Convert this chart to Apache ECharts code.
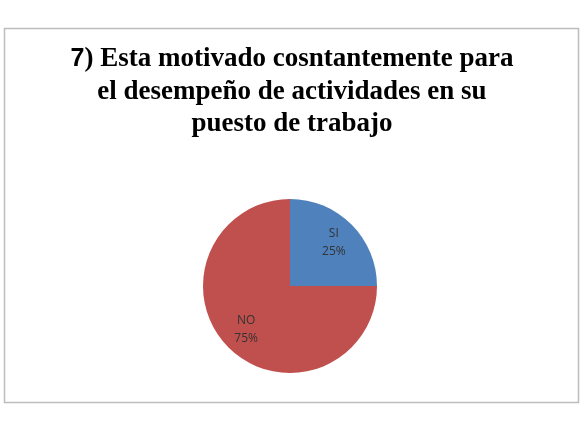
<!DOCTYPE html>
<html><head><meta charset="utf-8">
<script src="https://cdn.jsdelivr.net/npm/echarts@6/dist/echarts.min.js"></script>
<style>html,body{margin:0;padding:0;background:#fff}#c{width:585px;height:422px}</style>
</head><body><div id="c"></div>
<script>
var categories = ['SI', 'NO'];
var values = [25, 75];
var colors = ['#4F81BD', '#C0504D'];
var titleNum = '7';
var titleText = ') Esta motivado cosntantemente para\nel desempeño de actividades en su\npuesto de trabajo';

var data = categories.map(function (c, i) { return { name: c, value: values[i], itemStyle: { color: colors[i] } }; });
var labelData = categories.map(function (c, i) { return { name: c, value: values[i] }; });
var titleRich = '{n|' + titleNum + '}' + titleText.split('\n').map(function (l) { return '{t|' + l + '}'; }).join('\n');

var chart = echarts.init(document.getElementById('c'), null, { renderer: 'canvas' });
chart.setOption({
  backgroundColor: '#fff',
  animation: false,
  graphic: [{
    type: 'rect', shape: { x: 4.5, y: 28.5, width: 574, height: 374 },
    style: { fill: '#fff', stroke: '#bdbdbd', lineWidth: 1.5 }, z: -10, silent: true
  }, {
    type: 'text', x: 292, y: 43, silent: true,
    style: {
      text: titleRich, align: 'center', verticalAlign: 'top',
      rich: {
        n: { fontFamily: 'Liberation Sans', fontWeight: 'bold', fontSize: 25, fill: '#000', lineHeight: 32.5 },
        t: { fontFamily: 'Liberation Serif', fontWeight: 'bold', fontSize: 27, fill: '#000', lineHeight: 32.5 }
      }
    }
  }],
  series: [{
    type: 'pie', center: [290, 286], radius: 87, startAngle: 90, clockwise: true,
    data: data, label: { show: false }, labelLine: { show: false },
    itemStyle: { borderWidth: 0 }, silent: true
  }, {
    type: 'pie', center: [290, 286], radius: 118, startAngle: 90, clockwise: true,
    data: labelData, silent: true,
    itemStyle: { color: 'rgba(0,0,0,0)' },
    label: {
      show: true, position: 'inside', formatter: '{b}\n{d}%',
      fontFamily: 'Open Sans', fontSize: 12, color: '#333', lineHeight: 18
    },
    labelLine: { show: false }, z: 5
  }]
});
</script></body></html>
